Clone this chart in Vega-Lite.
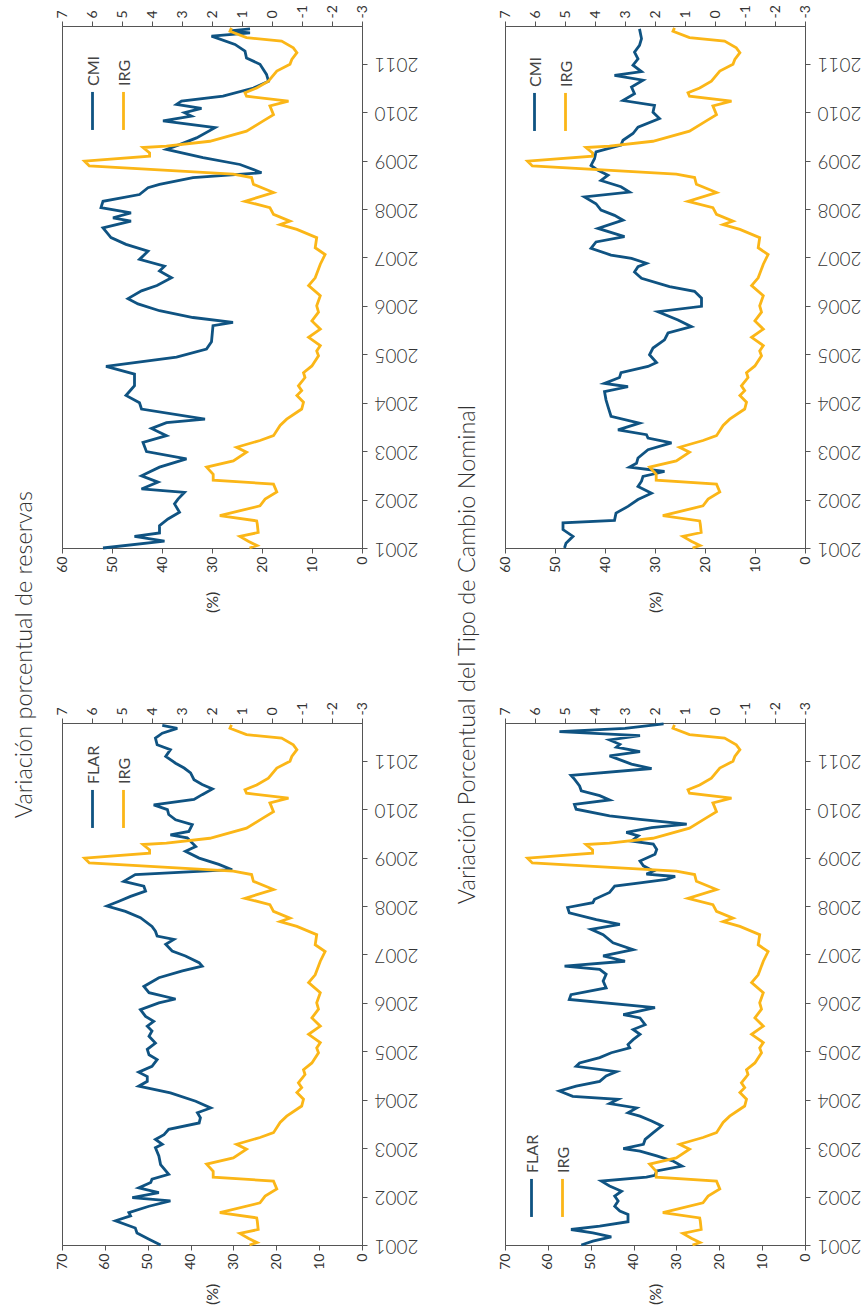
{
  "$schema": "https://vega.github.io/schema/vega-lite/v6.json",
  "background": "white",
  "padding": {"left": 12, "top": 4, "right": 0, "bottom": 0},
  "config": {
    "font": "Lato",
    "view": {"stroke": "#555", "strokeWidth": 1},
    "axis": {"grid": false, "domainColor": "#555", "tickColor": "#555", "labelColor": "#333", "titleColor": "#333", "labelFont": "Lato", "titleFont": "Lato", "labelFontWeight": 400, "titleFontWeight": 400, "tickSize": 5, "labelFlush": false, "labelOverlap": false},
    "legend": {"title": null, "direction": "horizontal", "symbolType": "M0,-1L0,1", "symbolSize": 1444, "symbolStrokeWidth": 2.8, "labelFontSize": 16, "labelFont": "Lato", "labelFontWeight": 400, "labelColor": "#444", "labelOffset": 0, "labelAlign": "left", "labelBaseline": "middle", "columnPadding": -4, "padding": 0}
  },
  "datasets": {
    "irg": [
      {"t":2001.00,"v":0.75},{"t":2001.05,"v":0.5},{"t":2001.14,"v":0.79},{"t":2001.24,"v":1.07},{"t":2001.32,"v":0.46},{"t":2001.49,"v":0.49},{"t":2001.56,"v":0.51},{"t":2001.67,"v":1.74},{"t":2001.87,"v":0.40},{"t":2002.01,"v":0.23},{"t":2002.16,"v":-0.16},{"t":2002.32,"v":-0.05},{"t":2002.40,"v":1.96},{"t":2002.52,"v":1.96},{"t":2002.67,"v":2.18},{"t":2002.80,"v":1.29},{"t":2002.98,"v":0.85},{"t":2003.08,"v":1.18},{"t":2003.22,"v":0.40},{"t":2003.32,"v":-0.05},{"t":2003.53,"v":-0.27},{"t":2003.66,"v":-0.49},{"t":2003.87,"v":-0.99},{"t":2004.01,"v":-1.05},{"t":2004.15,"v":-0.83},{"t":2004.25,"v":-0.99},{"t":2004.35,"v":-0.88},{"t":2004.52,"v":-1.1},{"t":2004.62,"v":-1.05},{"t":2004.76,"v":-1.33},{"t":2004.97,"v":-1.55},{"t":2005.07,"v":-1.49},{"t":2005.18,"v":-1.61},{"t":2005.35,"v":-1.22},{"t":2005.52,"v":-1.61},{"t":2005.69,"v":-1.33},{"t":2005.87,"v":-1.55},{"t":2006.0,"v":-1.49},{"t":2006.21,"v":-1.61},{"t":2006.42,"v":-1.22},
      {"t":2006.58,"v":-1.44},{"t":2006.86,"v":-1.61},{"t":2007.06,"v":-1.77},{"t":2007.20,"v":-1.44},{"t":2007.41,"v":-1.49},{"t":2007.58,"v":-0.83},{"t":2007.68,"v":-0.27},{"t":2007.75,"v":-0.6},{"t":2007.89,"v":-0.05},{"t":2008.03,"v":0.07},{"t":2008.16,"v":0.9},{"t":2008.34,"v":-0.05},{"t":2008.51,"v":0.62},{"t":2008.65,"v":0.68},{"t":2008.72,"v":1.29},{"t":2008.89,"v":6.09},{"t":2008.99,"v":6.25},{"t":2009.09,"v":4.08},{"t":2009.16,"v":4.08},{"t":2009.27,"v":4.3},{"t":2009.30,"v":3.52},{"t":2009.40,"v":2.07},{"t":2009.61,"v":0.85},{"t":2009.82,"v":0.29},{"t":2009.95,"v":-0.05},{"t":2010.13,"v":0.07},{"t":2010.23,"v":-0.55},{"t":2010.33,"v":0.85},{"t":2010.40,"v":0.9},{"t":2010.50,"v":0.51},{"t":2010.64,"v":0.12},{"t":2010.85,"v":-0.16},{"t":2010.99,"v":-0.6},{"t":2011.09,"v":-0.66},{"t":2011.23,"v":-0.83},{"t":2011.33,"v":-0.71},{"t":2011.47,"v":-0.32},{"t":2011.54,"v":0.85},{"t":2011.67,"v":1.40},{"t":2011.74,"v":1.35}
    ],
    "cmiRes": [
      {"t":2001.00,"v":51.8},{"t":2001.14,"v":39.5},{"t":2001.24,"v":45.5},{"t":2001.31,"v":40.5},{"t":2001.46,"v":40.5},{"t":2001.60,"v":38.8},{"t":2001.74,"v":36.5},{"t":2001.91,"v":37.5},{"t":2002.01,"v":36.8},{"t":2002.15,"v":35.5},{"t":2002.22,"v":44.1},{"t":2002.36,"v":40.8},{"t":2002.49,"v":44.1},{"t":2002.67,"v":40.5},{"t":2002.84,"v":35.1},{"t":2002.99,"v":43.1},{"t":2003.18,"v":43.8},{"t":2003.32,"v":39.1},{"t":2003.47,"v":42.1},{"t":2003.59,"v":39.1},{"t":2003.66,"v":31.4},{"t":2003.87,"v":44.1},{"t":2004.00,"v":44.5},{"t":2004.15,"v":47.2},{"t":2004.35,"v":45.5},{"t":2004.59,"v":45.5},{"t":2004.75,"v":51.2},{"t":2004.94,"v":37.1},{"t":2005.11,"v":31.1},{"t":2005.26,"v":30.1},{"t":2005.59,"v":29.8},{"t":2005.66,"v":25.8},{"t":2005.76,"v":33.8},{"t":2005.90,"v":40.5},{"t":2006.04,"v":44.8},{"t":2006.15,"v":46.8},{"t":2006.31,"v":44.1},{"t":2006.42,"v":41.0},
      {"t":2006.58,"v":38.1},{"t":2006.72,"v":40.5},{"t":2006.82,"v":39.5},{"t":2006.96,"v":44.5},{"t":2007.13,"v":42.8},{"t":2007.27,"v":47.2},{"t":2007.41,"v":50.2},{"t":2007.61,"v":51.8},{"t":2007.75,"v":46.2},{"t":2007.82,"v":49.8},{"t":2007.92,"v":46.2},{"t":2008.03,"v":52.2},{"t":2008.16,"v":51.8},{"t":2008.30,"v":44.5},{"t":2008.44,"v":42.8},{"t":2008.51,"v":40.5},{"t":2008.65,"v":33.8},{"t":2008.75,"v":20.1},{"t":2008.92,"v":24.4},{"t":2009.06,"v":31.8},{"t":2009.23,"v":39.1},{"t":2009.33,"v":36.5},{"t":2009.47,"v":33.1},{"t":2009.68,"v":29.4},{"t":2009.82,"v":39.8},{"t":2009.92,"v":34.1},{"t":2009.99,"v":35.5},{"t":2010.08,"v":32.1},{"t":2010.16,"v":37.1},{"t":2010.23,"v":36.1},{"t":2010.33,"v":27.8},{"t":2010.50,"v":21.7},{"t":2010.64,"v":18.7},{"t":2010.78,"v":19.1},{"t":2010.99,"v":20.4},{"t":2011.12,"v":23.1},{"t":2011.26,"v":23.4},{"t":2011.40,"v":25.4},{"t":2011.57,"v":30.1},{"t":2011.64,"v":22.4},{"t":2011.68,"v":26.4},{"t":2011.72,"v":22.4}
    ],
    "flarRes": [
      {"t":2001.00,"v":47.0},{"t":2001.12,"v":49.7},{"t":2001.25,"v":52.5},{"t":2001.35,"v":52.9},{"t":2001.50,"v":57.5},{"t":2001.60,"v":54.0},{"t":2001.67,"v":54.4},{"t":2001.80,"v":49.7},{"t":2001.91,"v":44.7},{"t":2001.98,"v":53.6},{"t":2002.08,"v":47.4},{"t":2002.18,"v":52.1},{"t":2002.29,"v":49.3},{"t":2002.36,"v":49.0},{"t":2002.46,"v":45.1},{"t":2002.66,"v":47.0},{"t":2002.84,"v":47.4},{"t":2003.01,"v":48.2},{"t":2003.08,"v":46.6},{"t":2003.18,"v":48.2},{"t":2003.28,"v":46.2},{"t":2003.39,"v":45.1},{"t":2003.52,"v":38.0},{"t":2003.63,"v":37.7},{"t":2003.73,"v":38.4},{"t":2003.83,"v":35.3},{"t":2003.97,"v":38.8},{"t":2004.14,"v":44.7},{"t":2004.28,"v":52.1},{"t":2004.38,"v":50.1},{"t":2004.48,"v":50.1},{"t":2004.57,"v":52.1},{"t":2004.69,"v":49.0},{"t":2004.83,"v":47.8},{"t":2004.93,"v":49.7},{"t":2005.04,"v":50.1},{"t":2005.17,"v":48.2},{"t":2005.31,"v":49.7},{"t":2005.42,"v":49.0},{"t":2005.52,"v":50.1},{"t":2005.62,"v":48.6},{"t":2005.72,"v":50.5},{"t":2005.86,"v":51.7},{"t":2006.00,"v":47.4},{"t":2006.08,"v":43.5},{"t":2006.21,"v":49.7},{"t":2006.34,"v":50.9},
      {"t":2006.52,"v":47.4},{"t":2006.66,"v":41.9},{"t":2006.76,"v":37.3},{"t":2006.83,"v":38.0},{"t":2006.97,"v":41.2},{"t":2007.07,"v":44.3},{"t":2007.21,"v":45.8},{"t":2007.31,"v":43.9},{"t":2007.38,"v":47.8},{"t":2007.48,"v":48.2},{"t":2007.58,"v":49.0},{"t":2007.76,"v":51.7},{"t":2007.89,"v":55.2},{"t":2008.00,"v":59.5},{"t":2008.10,"v":56.7},{"t":2008.20,"v":54.0},{"t":2008.31,"v":50.5},{"t":2008.41,"v":50.9},{"t":2008.51,"v":55.6},{"t":2008.65,"v":52.9},{"t":2008.75,"v":30.3},{"t":2008.86,"v":33.4},{"t":2008.99,"v":38.0},{"t":2009.13,"v":41.2},{"t":2009.23,"v":38.8},{"t":2009.30,"v":39.6},{"t":2009.41,"v":40.8},{"t":2009.47,"v":44.7},{"t":2009.54,"v":40.4},{"t":2009.68,"v":39.6},{"t":2009.78,"v":43.5},{"t":2009.89,"v":45.1},{"t":2009.99,"v":45.4},{"t":2010.09,"v":48.6},{"t":2010.20,"v":39.2},{"t":2010.30,"v":37.3},{"t":2010.42,"v":34.9},{"t":2010.51,"v":37.3},{"t":2010.61,"v":39.2},{"t":2010.75,"v":40.0},{"t":2010.85,"v":41.5},{"t":2010.95,"v":43.5},{"t":2011.09,"v":45.8},{"t":2011.23,"v":44.7},{"t":2011.33,"v":47.8},{"t":2011.47,"v":48.2},{"t":2011.57,"v":46.6},{"t":2011.67,"v":43.1},{"t":2011.73,"v":46.6}
    ],
    "cmiTcn": [
      {"t":2001.00,"v":48.1},{"t":2001.10,"v":47.8},{"t":2001.24,"v":46.4},{"t":2001.38,"v":48.4},{"t":2001.52,"v":48.4},{"t":2001.57,"v":38.1},{"t":2001.72,"v":37.8},{"t":2001.86,"v":35.4},{"t":2002.00,"v":33.4},{"t":2002.13,"v":30.7},{"t":2002.27,"v":33.4},{"t":2002.38,"v":32.7},{"t":2002.48,"v":32.4},{"t":2002.58,"v":28.1},{"t":2002.67,"v":35.1},{"t":2002.75,"v":33.7},{"t":2002.86,"v":33.4},{"t":2003.03,"v":31.4},{"t":2003.17,"v":26.7},{"t":2003.27,"v":31.4},{"t":2003.34,"v":31.7},{"t":2003.44,"v":37.4},{"t":2003.58,"v":33.1},{"t":2003.72,"v":38.8},{"t":2003.92,"v":39.4},{"t":2004.06,"v":39.8},{"t":2004.23,"v":40.1},{"t":2004.33,"v":35.4},{"t":2004.40,"v":40.1},{"t":2004.52,"v":37.1},{"t":2004.62,"v":36.8},{"t":2004.75,"v":31.4},{"t":2004.83,"v":29.7},{"t":2004.99,"v":31.1},{"t":2005.13,"v":30.4},{"t":2005.30,"v":28.1},{"t":2005.44,"v":27.4},{"t":2005.57,"v":22.7},{"t":2005.71,"v":25.4},{"t":2005.88,"v":29.4},{"t":2005.99,"v":20.7},{"t":2006.16,"v":20.7},{"t":2006.30,"v":22.1},{"t":2006.40,"v":27.1},
      {"t":2006.57,"v":32.7},{"t":2006.70,"v":34.1},{"t":2006.81,"v":33.4},{"t":2006.88,"v":31.7},{"t":2006.98,"v":34.7},{"t":2007.05,"v":38.8},{"t":2007.19,"v":42.8},{"t":2007.32,"v":41.8},{"t":2007.43,"v":36.1},{"t":2007.60,"v":41.4},{"t":2007.77,"v":36.4},{"t":2007.87,"v":38.1},{"t":2007.98,"v":40.8},{"t":2008.11,"v":41.8},{"t":2008.25,"v":44.1},{"t":2008.35,"v":35.1},{"t":2008.46,"v":36.8},{"t":2008.59,"v":40.8},{"t":2008.70,"v":39.4},{"t":2008.80,"v":41.4},{"t":2008.90,"v":42.8},{"t":2009.04,"v":42.1},{"t":2009.18,"v":41.8},{"t":2009.32,"v":36.8},{"t":2009.42,"v":36.4},{"t":2009.56,"v":34.4},{"t":2009.69,"v":33.4},{"t":2009.87,"v":29.1},{"t":2010.00,"v":30.4},{"t":2010.14,"v":30.1},{"t":2010.24,"v":36.4},{"t":2010.38,"v":34.1},{"t":2010.52,"v":34.7},{"t":2010.66,"v":32.4},{"t":2010.76,"v":38.1},{"t":2010.84,"v":32.7},{"t":2010.97,"v":34.4},{"t":2011.10,"v":33.4},{"t":2011.24,"v":34.1},{"t":2011.38,"v":33.1},{"t":2011.52,"v":32.7},{"t":2011.72,"v":33.1}
    ],
    "flarTcn": [
      {"t":2001.00,"v":52.2},{"t":2001.08,"v":49.5},{"t":2001.17,"v":45.2},{"t":2001.25,"v":49.5},{"t":2001.32,"v":54.6},{"t":2001.39,"v":47.9},{"t":2001.48,"v":41.3},{"t":2001.63,"v":41.3},{"t":2001.70,"v":43.2},{"t":2001.80,"v":44.4},{"t":2001.91,"v":43.6},{"t":2002.01,"v":44.4},{"t":2002.11,"v":42.8},{"t":2002.22,"v":45.6},{"t":2002.32,"v":47.5},{"t":2002.40,"v":37.0},{"t":2002.44,"v":35.0},{"t":2002.53,"v":34.6},{"t":2002.63,"v":28.7},{"t":2002.73,"v":30.7},{"t":2002.84,"v":34.6},{"t":2002.94,"v":38.5},{"t":2002.99,"v":42.4},{"t":2003.08,"v":37.7},{"t":2003.18,"v":37.3},{"t":2003.32,"v":35.4},{"t":2003.46,"v":33.4},{"t":2003.56,"v":35.8},{"t":2003.66,"v":38.5},{"t":2003.73,"v":41.3},{"t":2003.83,"v":39.3},{"t":2003.92,"v":45.6},{"t":2004.01,"v":43.6},{"t":2004.07,"v":54.2},{"t":2004.18,"v":57.3},{"t":2004.28,"v":53.4},{"t":2004.38,"v":47.9},{"t":2004.49,"v":46.4},{"t":2004.58,"v":44.0},{"t":2004.69,"v":53.4},{"t":2004.76,"v":52.6},{"t":2004.87,"v":47.9},{"t":2004.97,"v":45.2},{"t":2005.07,"v":40.9},{"t":2005.14,"v":41.3},{"t":2005.24,"v":40.1},{"t":2005.35,"v":38.5},{"t":2005.45,"v":40.1},{"t":2005.55,"v":37.3},{"t":2005.69,"v":38.5},{"t":2005.76,"v":42.4},{"t":2005.90,"v":35.0},{"t":2006.07,"v":55.0},{"t":2006.17,"v":54.6},{"t":2006.31,"v":46.4},
      {"t":2006.45,"v":47.1},{"t":2006.59,"v":46.4},{"t":2006.69,"v":47.9},{"t":2006.76,"v":56.1},{"t":2006.86,"v":42.0},{"t":2006.97,"v":47.1},{"t":2007.10,"v":40.1},{"t":2007.24,"v":44.8},{"t":2007.41,"v":47.1},{"t":2007.52,"v":49.9},{"t":2007.62,"v":43.2},{"t":2007.72,"v":48.7},{"t":2007.86,"v":55.0},{"t":2007.97,"v":55.4},{"t":2008.07,"v":49.5},{"t":2008.14,"v":49.1},{"t":2008.28,"v":45.6},{"t":2008.41,"v":44.4},{"t":2008.48,"v":38.5},{"t":2008.55,"v":32.3},{"t":2008.61,"v":30.3},{"t":2008.66,"v":37.0},{"t":2008.72,"v":35.4},{"t":2008.83,"v":37.7},{"t":2008.93,"v":38.5},{"t":2009.07,"v":35.0},{"t":2009.17,"v":34.6},{"t":2009.28,"v":35.4},{"t":2009.34,"v":40.5},{"t":2009.45,"v":38.9},{"t":2009.52,"v":41.7},{"t":2009.62,"v":35.8},{"t":2009.69,"v":27.6},{"t":2009.79,"v":38.5},{"t":2009.86,"v":45.6},{"t":2010.00,"v":53.4},{"t":2010.10,"v":53.8},{"t":2010.19,"v":45.6},{"t":2010.28,"v":47.9},{"t":2010.38,"v":52.2},{"t":2010.48,"v":52.6},{"t":2010.62,"v":53.8},{"t":2010.70,"v":54.6},{"t":2010.84,"v":35.8},{"t":2010.93,"v":40.5},{"t":2011.10,"v":45.6},{"t":2011.19,"v":38.5},{"t":2011.28,"v":44.0},{"t":2011.34,"v":43.2},{"t":2011.43,"v":45.6},{"t":2011.52,"v":38.5},{"t":2011.60,"v":57.3},{"t":2011.67,"v":42.0},{"t":2011.76,"v":33.0}
    ]
  },
  "hconcat": [
    {
      "title": {"text": "Variación porcentual de reservas", "orient": "left", "anchor": "middle", "fontSize": 23.5, "fontWeight": 300, "font": "Lato", "color": "#333", "offset": 18},
      "spacing": 87,
      "resolve": {"scale": {"color": "independent"}},
      "vconcat": [
        {
          "width": 300, "height": 522,
          "encoding": {
            "y": {"field": "t", "type": "quantitative", "scale": {"domain": [2001, 2011.78], "nice": false, "zero": false}, "axis": {"orient": "right", "values": [2001,2002,2003,2004,2005,2006,2007,2008,2009,2010,2011], "format": "d", "labelAngle": 180, "labelAlign": "right", "labelBaseline": "middle", "labelFontSize": 19, "labelFontWeight": 300, "labelPadding": 7, "title": null}},
            "order": {"field": "t", "type": "quantitative"}
          },
          "layer": [
            {"data": {"name": "cmiRes"}, "mark": {"type": "line", "strokeWidth": 2.8},
             "encoding": {
               "x": {"field": "v", "type": "quantitative", "scale": {"domain": [0, 60], "reverse": true, "nice": false}, "axis": {"orient": "bottom", "values": [0,10,20,30,40,50,60], "labelAngle": -90, "labelAlign": "right", "labelBaseline": "middle", "labelFontSize": 14, "labelPadding": 3, "title": "(%)", "titleAngle": -90, "titleAlign": "right", "titleBaseline": "middle", "titleFontSize": 16, "titlePadding": 19}},
               "color": {"datum": "CMI", "type": "nominal", "scale": {"domain": ["CMI", "IRG"], "range": ["#0f5382", "#fbb617"]},
                 "legend": {"orient": "none", "legendX": 10, "legendY": 64,
                   "encoding": {"labels": {"angle": {"value": -90}, "dx": {"value": 25}, "dy": {"value": -19}}}}}
             }},
            {"data": {"name": "irg"}, "mark": {"type": "line", "strokeWidth": 2.8},
             "encoding": {
               "x": {"field": "v", "type": "quantitative", "scale": {"domain": [-3, 7], "reverse": true, "nice": false}, "axis": {"orient": "top", "values": [-3,-2,-1,0,1,2,3,4,5,6,7], "labelExpr": "replace(datum.label, '−', '-')", "labelAngle": -90, "labelAlign": "left", "labelBaseline": "middle", "labelFontSize": 14, "labelPadding": 3, "title": null}},
               "color": {"datum": "IRG", "type": "nominal"}
             }}
          ],
          "resolve": {"scale": {"x": "independent"}}
        },
        {
          "width": 300, "height": 522,
          "encoding": {
            "y": {"field": "t", "type": "quantitative", "scale": {"domain": [2001, 2011.78], "nice": false, "zero": false}, "axis": {"orient": "right", "values": [2001,2002,2003,2004,2005,2006,2007,2008,2009,2010,2011], "format": "d", "labelAngle": 180, "labelAlign": "right", "labelBaseline": "middle", "labelFontSize": 19, "labelFontWeight": 300, "labelPadding": 7, "title": null}},
            "order": {"field": "t", "type": "quantitative"}
          },
          "layer": [
            {"data": {"name": "flarRes"}, "mark": {"type": "line", "strokeWidth": 2.8},
             "encoding": {
               "x": {"field": "v", "type": "quantitative", "scale": {"domain": [0, 70], "reverse": true, "nice": false}, "axis": {"orient": "bottom", "values": [0,10,20,30,40,50,60,70], "labelAngle": -90, "labelAlign": "right", "labelBaseline": "middle", "labelFontSize": 14, "labelPadding": 3, "title": "(%)", "titleAngle": -90, "titleAlign": "right", "titleBaseline": "middle", "titleFontSize": 16, "titlePadding": 14}},
               "color": {"datum": "FLAR", "type": "nominal", "scale": {"domain": ["FLAR", "IRG"], "range": ["#0f5382", "#fbb617"]},
                 "legend": {"orient": "none", "legendX": 10, "legendY": 65,
                   "encoding": {"labels": {"angle": {"value": -90}, "dx": {"value": 25}, "dy": {"value": -19}}}}}
             }},
            {"data": {"name": "irg"}, "mark": {"type": "line", "strokeWidth": 2.8},
             "encoding": {
               "x": {"field": "v", "type": "quantitative", "scale": {"domain": [-3, 7], "reverse": true, "nice": false}, "axis": {"orient": "top", "values": [-3,-2,-1,0,1,2,3,4,5,6,7], "labelExpr": "replace(datum.label, '−', '-')", "labelAngle": -90, "labelAlign": "left", "labelBaseline": "middle", "labelFontSize": 14, "labelPadding": 3, "title": null}},
               "color": {"datum": "IRG", "type": "nominal"}
             }}
          ],
          "resolve": {"scale": {"x": "independent"}}
        }
      ]
    },
    {
      "title": {"text": "Variación Porcentual del Tipo de Cambio Nominal", "orient": "left", "anchor": "middle", "fontSize": 23.5, "fontWeight": 300, "font": "Lato", "color": "#333", "offset": 18},
      "spacing": 87,
      "resolve": {"scale": {"color": "independent"}},
      "vconcat": [
        {
          "width": 300, "height": 522,
          "encoding": {
            "y": {"field": "t", "type": "quantitative", "scale": {"domain": [2001, 2011.78], "nice": false, "zero": false}, "axis": {"orient": "right", "values": [2001,2002,2003,2004,2005,2006,2007,2008,2009,2010,2011], "format": "d", "labelAngle": 180, "labelAlign": "right", "labelBaseline": "middle", "labelFontSize": 19, "labelFontWeight": 300, "labelPadding": 7, "title": null}},
            "order": {"field": "t", "type": "quantitative"}
          },
          "layer": [
            {"data": {"name": "cmiTcn"}, "mark": {"type": "line", "strokeWidth": 2.8},
             "encoding": {
               "x": {"field": "v", "type": "quantitative", "scale": {"domain": [0, 60], "reverse": true, "nice": false}, "axis": {"orient": "bottom", "values": [0,10,20,30,40,50,60], "labelAngle": -90, "labelAlign": "right", "labelBaseline": "middle", "labelFontSize": 14, "labelPadding": 3, "title": "(%)", "titleAngle": -90, "titleAlign": "right", "titleBaseline": "middle", "titleFontSize": 16, "titlePadding": 19}},
               "color": {"datum": "CMI", "type": "nominal", "scale": {"domain": ["CMI", "IRG"], "range": ["#0f5382", "#fbb617"]},
                 "legend": {"orient": "none", "legendX": 9, "legendY": 65,
                   "encoding": {"labels": {"angle": {"value": -90}, "dx": {"value": 25}, "dy": {"value": -19}}}}}
             }},
            {"data": {"name": "irg"}, "mark": {"type": "line", "strokeWidth": 2.8},
             "encoding": {
               "x": {"field": "v", "type": "quantitative", "scale": {"domain": [-3, 7], "reverse": true, "nice": false}, "axis": {"orient": "top", "values": [-3,-2,-1,0,1,2,3,4,5,6,7], "labelExpr": "replace(datum.label, '−', '-')", "labelAngle": -90, "labelAlign": "left", "labelBaseline": "middle", "labelFontSize": 14, "labelPadding": 3, "title": null}},
               "color": {"datum": "IRG", "type": "nominal"}
             }}
          ],
          "resolve": {"scale": {"x": "independent"}}
        },
        {
          "width": 300, "height": 522,
          "encoding": {
            "y": {"field": "t", "type": "quantitative", "scale": {"domain": [2001, 2011.78], "nice": false, "zero": false}, "axis": {"orient": "right", "values": [2001,2002,2003,2004,2005,2006,2007,2008,2009,2010,2011], "format": "d", "labelAngle": 180, "labelAlign": "right", "labelBaseline": "middle", "labelFontSize": 19, "labelFontWeight": 300, "labelPadding": 7, "title": null}},
            "order": {"field": "t", "type": "quantitative"}
          },
          "layer": [
            {"data": {"name": "flarTcn"}, "mark": {"type": "line", "strokeWidth": 2.8},
             "encoding": {
               "x": {"field": "v", "type": "quantitative", "scale": {"domain": [0, 70], "reverse": true, "nice": false}, "axis": {"orient": "bottom", "values": [0,10,20,30,40,50,60,70], "labelAngle": -90, "labelAlign": "right", "labelBaseline": "middle", "labelFontSize": 14, "labelPadding": 3, "title": "(%)", "titleAngle": -90, "titleAlign": "right", "titleBaseline": "middle", "titleFontSize": 16, "titlePadding": 14}},
               "color": {"datum": "FLAR", "type": "nominal", "scale": {"domain": ["FLAR", "IRG"], "range": ["#0f5382", "#fbb617"]},
                 "legend": {"orient": "none", "legendX": 6, "legendY": 454,
                   "encoding": {"labels": {"angle": {"value": -90}, "dx": {"value": 25}, "dy": {"value": -19}}}}}
             }},
            {"data": {"name": "irg"}, "mark": {"type": "line", "strokeWidth": 2.8},
             "encoding": {
               "x": {"field": "v", "type": "quantitative", "scale": {"domain": [-3, 7], "reverse": true, "nice": false}, "axis": {"orient": "top", "values": [-3,-2,-1,0,1,2,3,4,5,6,7], "labelExpr": "replace(datum.label, '−', '-')", "labelAngle": -90, "labelAlign": "left", "labelBaseline": "middle", "labelFontSize": 14, "labelPadding": 3, "title": null}},
               "color": {"datum": "IRG", "type": "nominal"}
             }}
          ],
          "resolve": {"scale": {"x": "independent"}}
        }
      ]
    }
  ],
  "spacing": 36,
  "resolve": {"scale": {"color": "independent"}}
}
